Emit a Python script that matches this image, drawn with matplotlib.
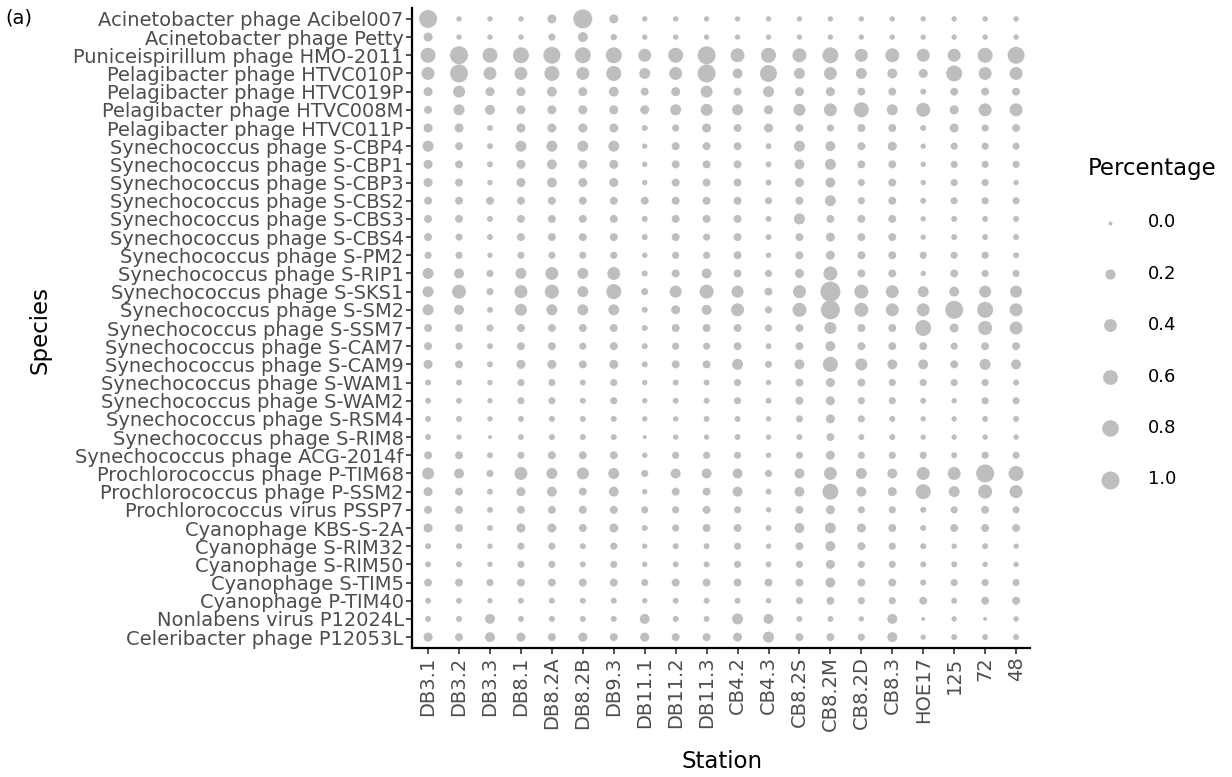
import numpy as np
import matplotlib
matplotlib.use("Agg")
from matplotlib import pyplot as plt

plt.rcParams["font.family"] = ["DejaVu Sans"]

# --- data ----------------------------------------------------------
stations = ["DB3.1", "DB3.2", "DB3.3", "DB8.1", "DB8.2A", "DB8.2B", "DB9.3",
            "DB11.1", "DB11.2", "DB11.3", "CB4.2", "CB4.3", "CB8.2S", "CB8.2M",
            "CB8.2D", "CB8.3", "HOE17", "125", "72", "48"]

species = [
    "Acinetobacter phage Acibel007",
    "Acinetobacter phage Petty",
    "Puniceispirillum phage HMO-2011",
    "Pelagibacter phage HTVC010P",
    "Pelagibacter phage HTVC019P",
    "Pelagibacter phage HTVC008M",
    "Pelagibacter phage HTVC011P",
    "Synechococcus phage S-CBP4",
    "Synechococcus phage S-CBP1",
    "Synechococcus phage S-CBP3",
    "Synechococcus phage S-CBS2",
    "Synechococcus phage S-CBS3",
    "Synechococcus phage S-CBS4",
    "Synechococcus phage S-PM2",
    "Synechococcus phage S-RIP1",
    "Synechococcus phage S-SKS1",
    "Synechococcus phage S-SM2",
    "Synechococcus phage S-SSM7",
    "Synechococcus phage S-CAM7",
    "Synechococcus phage S-CAM9",
    "Synechococcus phage S-WAM1",
    "Synechococcus phage S-WAM2",
    "Synechococcus phage S-RSM4",
    "Synechococcus phage S-RIM8",
    "Synechococcus phage ACG-2014f",
    "Prochlorococcus phage P-TIM68",
    "Prochlorococcus phage P-SSM2",
    "Prochlorococcus virus PSSP7",
    "Cyanophage KBS-S-2A",
    "Cyanophage S-RIM32",
    "Cyanophage S-RIM50",
    "Cyanophage S-TIM5",
    "Cyanophage P-TIM40",
    "Nonlabens virus P12024L",
    "Celeribacter phage P12053L",
]

# percentage per species (rows) and station (columns)
percentage = np.array([
    [1.00, 0.01, 0.01, 0.01, 0.13, 1.15, 0.13, 0.01, 0.01, 0.01, 0.01, 0.01, 0.01, 0.01, 0.01, 0.01, 0.01, 0.01, 0.01, 0.01],
    [0.13, 0.01, 0.01, 0.01, 0.05, 0.18, 0.03, 0.01, 0.01, 0.01, 0.01, 0.01, 0.01, 0.01, 0.01, 0.01, 0.01, 0.01, 0.01, 0.01],
    [0.62, 1.00, 0.62, 0.73, 0.86, 0.73, 0.73, 0.41, 0.62, 1.00, 0.51, 0.62, 0.51, 0.73, 0.41, 0.51, 0.41, 0.41, 0.62, 0.86],
    [0.41, 1.00, 0.41, 0.41, 0.62, 0.41, 0.62, 0.25, 0.41, 1.00, 0.18, 0.86, 0.25, 0.41, 0.25, 0.18, 0.13, 0.73, 0.41, 0.41],
    [0.13, 0.33, 0.13, 0.13, 0.18, 0.13, 0.18, 0.08, 0.13, 0.33, 0.08, 0.25, 0.13, 0.13, 0.08, 0.08, 0.02, 0.08, 0.08, 0.08],
    [0.08, 0.25, 0.18, 0.13, 0.13, 0.13, 0.13, 0.13, 0.25, 0.33, 0.25, 0.13, 0.33, 0.41, 0.62, 0.25, 0.51, 0.13, 0.41, 0.41],
    [0.13, 0.13, 0.02, 0.13, 0.13, 0.13, 0.13, 0.02, 0.05, 0.13, 0.08, 0.13, 0.08, 0.05, 0.08, 0.08, 0.02, 0.13, 0.05, 0.08],
    [0.25, 0.08, 0.02, 0.25, 0.25, 0.25, 0.25, 0.01, 0.08, 0.08, 0.08, 0.02, 0.25, 0.18, 0.08, 0.13, 0.01, 0.05, 0.05, 0.05],
    [0.13, 0.08, 0.02, 0.13, 0.18, 0.13, 0.13, 0.01, 0.08, 0.08, 0.08, 0.02, 0.18, 0.25, 0.08, 0.08, 0.01, 0.05, 0.05, 0.05],
    [0.13, 0.08, 0.01, 0.13, 0.18, 0.13, 0.13, 0.01, 0.08, 0.08, 0.08, 0.02, 0.13, 0.18, 0.05, 0.08, 0.01, 0.05, 0.05, 0.01],
    [0.08, 0.08, 0.08, 0.08, 0.08, 0.08, 0.08, 0.08, 0.08, 0.08, 0.08, 0.05, 0.08, 0.25, 0.05, 0.08, 0.02, 0.05, 0.05, 0.05],
    [0.08, 0.08, 0.02, 0.08, 0.08, 0.08, 0.08, 0.02, 0.08, 0.08, 0.08, 0.02, 0.25, 0.08, 0.08, 0.08, 0.01, 0.02, 0.02, 0.02],
    [0.08, 0.05, 0.02, 0.08, 0.08, 0.08, 0.08, 0.02, 0.08, 0.05, 0.08, 0.02, 0.08, 0.13, 0.08, 0.08, 0.01, 0.02, 0.02, 0.02],
    [0.05, 0.05, 0.01, 0.05, 0.05, 0.05, 0.05, 0.01, 0.05, 0.05, 0.08, 0.01, 0.08, 0.13, 0.08, 0.08, 0.05, 0.05, 0.05, 0.02],
    [0.25, 0.18, 0.05, 0.25, 0.41, 0.25, 0.41, 0.02, 0.08, 0.18, 0.08, 0.05, 0.13, 0.51, 0.08, 0.08, 0.01, 0.08, 0.05, 0.05],
    [0.25, 0.51, 0.05, 0.41, 0.51, 0.25, 0.62, 0.05, 0.33, 0.51, 0.33, 0.08, 0.41, 1.31, 0.51, 0.41, 0.25, 0.18, 0.33, 0.33],
    [0.25, 0.18, 0.02, 0.33, 0.25, 0.25, 0.25, 0.02, 0.13, 0.18, 0.41, 0.05, 0.51, 1.15, 0.51, 0.41, 0.41, 1.00, 0.73, 0.41],
    [0.08, 0.08, 0.05, 0.08, 0.08, 0.08, 0.08, 0.02, 0.08, 0.08, 0.08, 0.05, 0.08, 0.33, 0.08, 0.08, 0.73, 0.13, 0.51, 0.41],
    [0.08, 0.05, 0.02, 0.08, 0.08, 0.05, 0.08, 0.02, 0.05, 0.05, 0.08, 0.02, 0.08, 0.18, 0.08, 0.08, 0.08, 0.05, 0.08, 0.08],
    [0.13, 0.08, 0.02, 0.13, 0.13, 0.08, 0.13, 0.02, 0.08, 0.08, 0.25, 0.05, 0.18, 0.62, 0.33, 0.18, 0.18, 0.08, 0.25, 0.18],
    [0.02, 0.02, 0.01, 0.05, 0.05, 0.02, 0.05, 0.01, 0.02, 0.02, 0.05, 0.01, 0.08, 0.13, 0.08, 0.05, 0.05, 0.05, 0.05, 0.02],
    [0.02, 0.02, 0.01, 0.05, 0.05, 0.02, 0.05, 0.01, 0.02, 0.02, 0.05, 0.02, 0.08, 0.13, 0.05, 0.05, 0.02, 0.01, 0.05, 0.05],
    [0.02, 0.02, 0.01, 0.02, 0.02, 0.02, 0.02, 0.01, 0.01, 0.02, 0.02, 0.01, 0.05, 0.13, 0.05, 0.02, 0.01, 0.01, 0.02, 0.02],
    [0.02, 0.01, 0.00, 0.02, 0.02, 0.02, 0.02, 0.00, 0.01, 0.01, 0.02, 0.01, 0.02, 0.08, 0.02, 0.02, 0.01, 0.01, 0.01, 0.01],
    [0.08, 0.08, 0.02, 0.05, 0.08, 0.08, 0.08, 0.01, 0.05, 0.05, 0.05, 0.01, 0.05, 0.13, 0.05, 0.05, 0.05, 0.02, 0.05, 0.05],
    [0.33, 0.18, 0.05, 0.41, 0.25, 0.33, 0.25, 0.05, 0.18, 0.18, 0.18, 0.05, 0.18, 0.41, 0.25, 0.18, 0.41, 0.41, 1.00, 0.62],
    [0.13, 0.08, 0.02, 0.13, 0.18, 0.08, 0.18, 0.01, 0.08, 0.08, 0.18, 0.02, 0.18, 0.73, 0.18, 0.13, 0.62, 0.25, 0.51, 0.41],
    [0.08, 0.08, 0.02, 0.08, 0.08, 0.08, 0.08, 0.05, 0.05, 0.08, 0.05, 0.01, 0.08, 0.13, 0.05, 0.05, 0.02, 0.05, 0.08, 0.05],
    [0.13, 0.08, 0.02, 0.13, 0.13, 0.08, 0.13, 0.02, 0.05, 0.08, 0.08, 0.02, 0.18, 0.25, 0.13, 0.08, 0.02, 0.08, 0.08, 0.08],
    [0.02, 0.02, 0.01, 0.05, 0.05, 0.02, 0.05, 0.01, 0.02, 0.02, 0.05, 0.01, 0.08, 0.18, 0.08, 0.05, 0.02, 0.01, 0.02, 0.01],
    [0.02, 0.02, 0.01, 0.05, 0.05, 0.02, 0.05, 0.01, 0.02, 0.02, 0.05, 0.02, 0.05, 0.13, 0.05, 0.05, 0.02, 0.02, 0.01, 0.01],
    [0.08, 0.08, 0.05, 0.08, 0.08, 0.08, 0.08, 0.05, 0.08, 0.08, 0.08, 0.08, 0.08, 0.18, 0.08, 0.08, 0.02, 0.05, 0.05, 0.05],
    [0.02, 0.02, 0.01, 0.02, 0.02, 0.02, 0.02, 0.01, 0.02, 0.02, 0.02, 0.01, 0.05, 0.08, 0.05, 0.05, 0.08, 0.02, 0.08, 0.08],
    [0.02, 0.02, 0.18, 0.02, 0.02, 0.02, 0.02, 0.18, 0.02, 0.02, 0.25, 0.18, 0.02, 0.02, 0.01, 0.18, 0.00, 0.01, 0.00, 0.01],
    [0.13, 0.08, 0.18, 0.13, 0.08, 0.13, 0.08, 0.13, 0.08, 0.08, 0.13, 0.25, 0.08, 0.08, 0.05, 0.18, 0.01, 0.02, 0.02, 0.02],
])

legend_breaks = [0.0, 0.2, 0.4, 0.6, 0.8, 1.0]

DOT = "#BEBEBE"
TXT = "#4D4D4D"


def dot_size(v):
    # area-style scale: diameter in px grows with sqrt(value), converted to pt^2
    d_px = 4 + 14 * np.sqrt(np.asarray(v, dtype=float))
    return (d_px * 0.72) ** 2


fig = plt.figure(figsize=(12.32, 7.77), dpi=100)
ax = fig.add_axes([412 / 1232, 1 - 648 / 777, 618 / 1232, 640 / 777])

xx, yy = np.meshgrid(np.arange(len(stations)), np.arange(len(species)))
ax.scatter(xx.ravel(), yy.ravel(), s=dot_size(percentage.ravel()),
           color=DOT, linewidths=0, zorder=3)

ax.set_xlim(-0.52, len(stations) - 1 + 0.45)
ax.set_ylim(len(species) - 1 + 0.6, -0.6)

ax.set_xticks(range(len(stations)))
ax.set_xticklabels(stations, rotation=90, fontsize=14, color=TXT)
ax.set_yticks(range(len(species)))
ax.set_yticklabels(species, fontsize=14, color=TXT)
ax.tick_params(axis="both", length=4, width=1.2, color="#333333", pad=2)

for side in ["top", "right"]:
    ax.spines[side].set_visible(False)
for side in ["left", "bottom"]:
    ax.spines[side].set_linewidth(1.6)
    ax.spines[side].set_color("black")

fig.text(722 / 1232, 1 - 762 / 777, "Station", fontsize=16.5, ha="center", va="center")
fig.text(40 / 1232, 1 - 330 / 777, "Species", fontsize=16.5, rotation=90,
         ha="center", va="center")
fig.text(0.004, 1 - 18 / 777, "(a)", fontsize=14, ha="left", va="center")

# size legend
handles = [ax.scatter([], [], s=dot_size(b), color=DOT, linewidths=0) for b in legend_breaks]
leg = fig.legend(handles, [f"{b:.1f}" for b in legend_breaks], title="Percentage",
                 loc="upper left", bbox_to_anchor=(1079 / 1232, 1 - 148 / 777),
                 frameon=False, fontsize=13, title_fontsize=16.5,
                 labelspacing=1.85, handlelength=2.4, handletextpad=0.9, borderpad=0)
leg._legend_box.align = "left"

fig.savefig("out.png", dpi=100)
